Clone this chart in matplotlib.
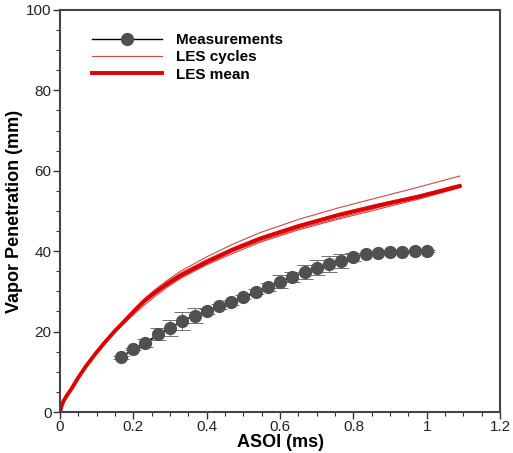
import matplotlib
matplotlib.use("Agg")
import matplotlib.pyplot as plt
from matplotlib.ticker import MultipleLocator, FuncFormatter
from matplotlib.lines import Line2D

plt.rcParams['font.family'] = ['Liberation Sans', 'DejaVu Sans']

# LES mean and cycles (x in ms, y in mm)
les_x = [0, 0.005, 0.01, 0.02, 0.03, 0.05, 0.07, 0.095, 0.12, 0.15, 0.18, 0.205, 0.23, 0.26,
         0.29, 0.33, 0.40, 0.47, 0.545, 0.65, 0.76, 0.87, 0.98, 1.09]
les_mean = [0, 1.7, 2.8, 4.3, 5.6, 8.6, 11.3, 14.3, 17.1, 20.2, 23.0, 25.4, 27.6, 29.8,
            31.7, 34.0, 37.3, 40.3, 43.1, 46.2, 49.0, 51.4, 53.6, 56.2]
cycle1 = [0, 1.7, 2.8, 4.3, 5.6, 8.7, 11.4, 14.4, 17.3, 20.5, 23.4, 25.9, 28.2, 30.5,
          32.6, 35.1, 38.6, 41.7, 44.6, 47.9, 50.8, 53.4, 56.0, 58.7]
cycle2 = [0, 1.7, 2.8, 4.3, 5.6, 8.5, 11.2, 14.1, 16.8, 19.8, 22.5, 24.6, 26.6, 28.8,
          30.9, 33.3, 36.6, 39.4, 42.2, 45.3, 48.0, 50.5, 53.0, 55.8]
cycle3 = [0, 1.7, 2.8, 4.3, 5.6, 8.6, 11.3, 14.3, 17.2, 20.3, 23.1, 25.6, 28.0, 30.3,
          32.3, 34.6, 37.9, 40.8, 43.5, 46.6, 49.3, 51.6, 53.8, 56.4]
cycle4 = [0, 1.7, 2.8, 4.3, 5.6, 8.6, 11.2, 14.2, 17.0, 20.1, 22.8, 25.1, 27.2, 29.3,
          31.3, 33.7, 36.9, 39.9, 42.5, 45.6, 48.3, 50.9, 53.3, 56.0]
cycle5 = [0, 1.7, 2.8, 4.3, 5.6, 8.6, 11.3, 14.3, 17.1, 20.2, 23.0, 25.5, 27.9, 30.1,
          32.0, 34.4, 37.6, 40.6, 43.4, 46.5, 49.4, 51.8, 54.0, 56.6]
cycles = [cycle1, cycle2, cycle3, cycle4, cycle5]

# Measurements
meas_x = [0.167, 0.2, 0.233, 0.267, 0.3, 0.333, 0.367, 0.4, 0.433, 0.467, 0.5, 0.533, 0.567,
          0.6, 0.633, 0.667, 0.7, 0.733, 0.767, 0.8, 0.833, 0.867, 0.9, 0.933, 0.967, 1.0]
meas_y = [13.6, 15.7, 17.2, 19.3, 20.9, 22.7, 24.0, 25.1, 26.3, 27.3, 28.6, 29.9, 31.2,
          32.4, 33.6, 34.8, 35.9, 36.8, 37.6, 38.5, 39.3, 39.5, 39.7, 39.9, 40.0, 40.1]
meas_err = [0.3, 0.3, 1.0, 1.5, 2.0, 2.2, 1.8, 0.6, 0.6, 0.6, 0.6, 0.6, 1.0,
            1.6, 1.2, 1.8, 1.8, 2.0, 1.8, 1.0, 0.3, 0.3, 0.3, 0.3, 0.3, 0.3]

fig = plt.figure(figsize=(5.13, 4.53), dpi=100)
ax = fig.add_axes([0.117, 0.0905, 0.858, 0.8875])

meas_color = '#505050'
ax.errorbar(meas_x, meas_y, yerr=meas_err, color='black', lw=1.0, marker='o',
            markersize=8.5, markerfacecolor=meas_color, markeredgecolor=meas_color,
            ecolor='#707070', elinewidth=0.7, capsize=5.5, capthick=0.7, zorder=3)
for c in cycles:
    ax.plot(les_x, c, color='#d04848', lw=0.8, zorder=2)
ax.plot(les_x, les_mean, color='#e00000', lw=2.8, zorder=2.5)

ax.set_xlim(0, 1.2)
ax.set_ylim(0, 100)
ax.xaxis.set_major_locator(MultipleLocator(0.2))
ax.xaxis.set_minor_locator(MultipleLocator(0.05))
ax.yaxis.set_major_locator(MultipleLocator(20))
ax.yaxis.set_minor_locator(MultipleLocator(5))
ax.xaxis.set_major_formatter(FuncFormatter(lambda v, p: ('%g' % round(v, 2))))
ax.tick_params(which='major', direction='out', length=5, width=1, labelsize=11, colors='#333333', pad=1)
ax.tick_params(which='minor', direction='out', length=3, width=0.8, colors='#333333')
for lab in ax.get_xticklabels() + ax.get_yticklabels():
    lab.set_color('#222222')
for s in ax.spines.values():
    s.set_linewidth(1.5)
    s.set_color('#444444')

ax.set_xlabel('ASOI (ms)', fontsize=13, fontweight='bold', labelpad=0)
ax.set_ylabel('Vapor Penetration (mm)', fontsize=13, fontweight='bold', labelpad=2)

handles = [
    Line2D([], [], color='black', lw=1.0, marker='o', markersize=8.5,
           markerfacecolor=meas_color, markeredgecolor=meas_color),
    Line2D([], [], color='#d04848', lw=0.8),
    Line2D([], [], color='#e00000', lw=2.8),
]
labels = ['Measurements', 'LES cycles', 'LES mean']
leg = ax.legend(handles, labels, loc='upper left', bbox_to_anchor=(0.058, 0.958), frameon=False,
                handlelength=4.6, fontsize=11, labelspacing=0.22, handletextpad=0.9, borderaxespad=0)
for t in leg.get_texts():
    t.set_fontweight('bold')

fig.savefig('out.png', dpi=100)
